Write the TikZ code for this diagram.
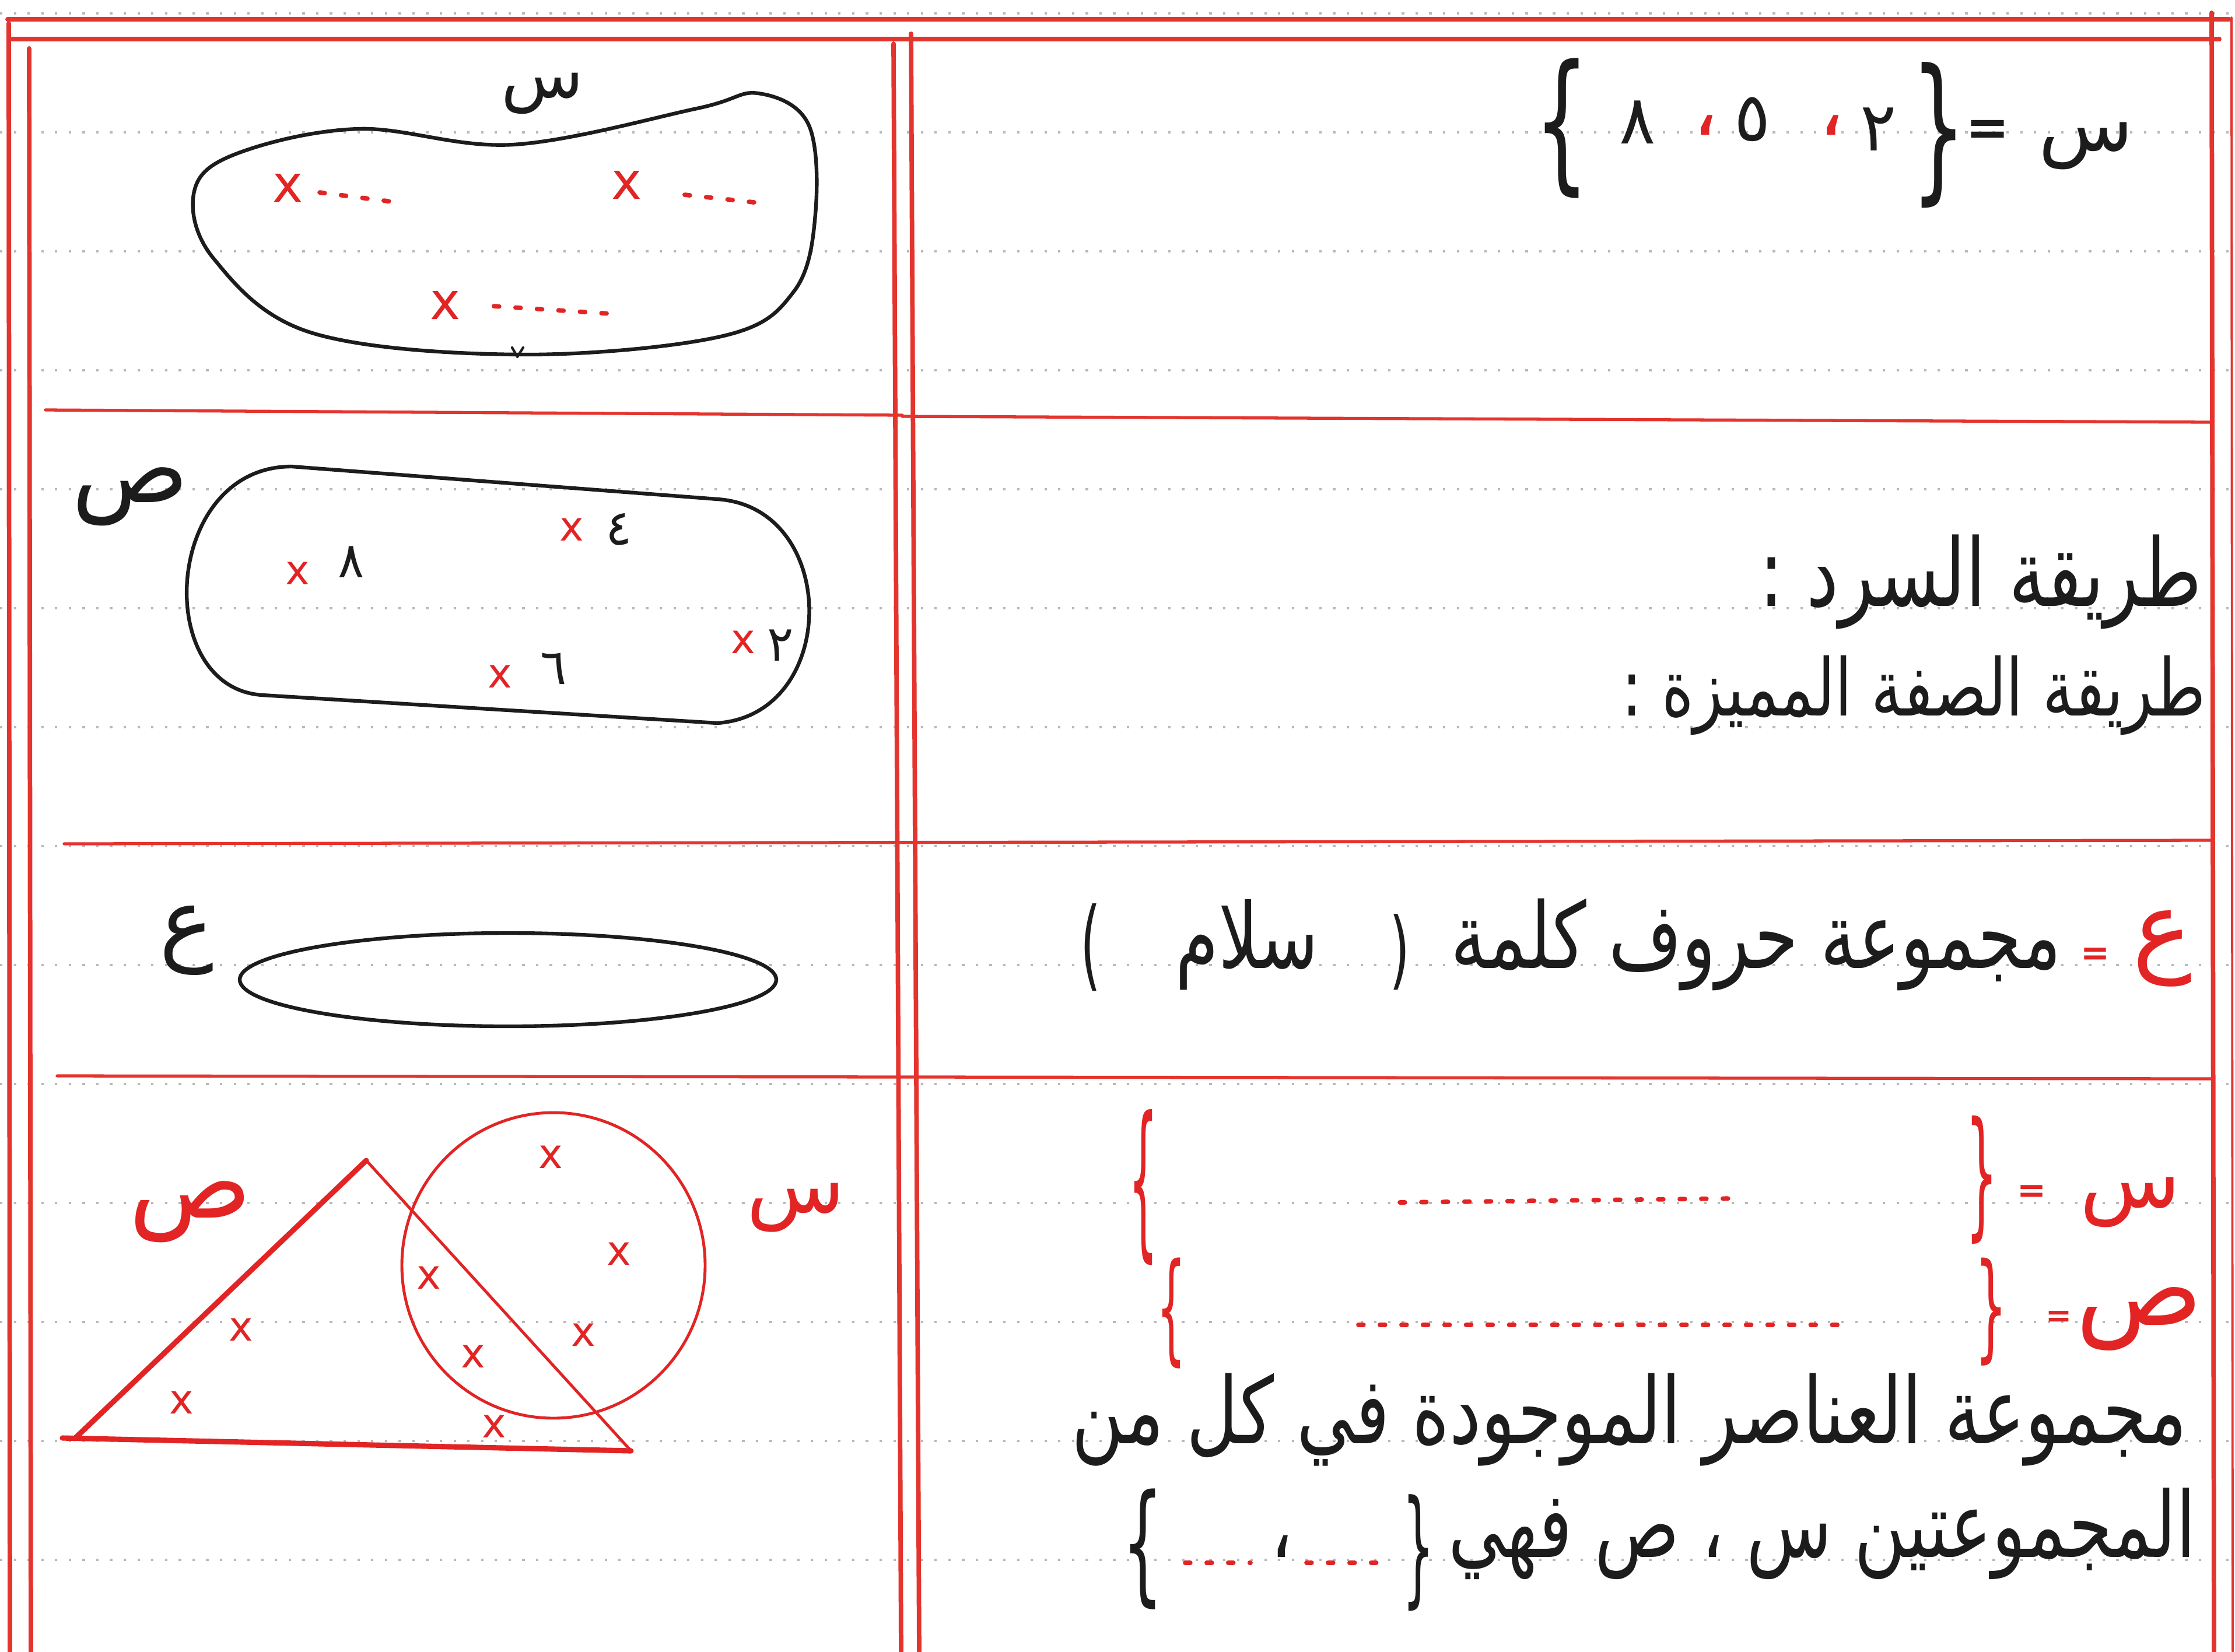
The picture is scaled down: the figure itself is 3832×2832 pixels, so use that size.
\documentclass[tikz,border=0pt]{standalone}
\usepackage{fontspec}
\usepackage{graphicx}
\setmainfont{DejaVu Sans}
\newfontfamily\arabicfont[Script=Arabic]{DejaVu Sans}
\TeXXeTstate=1
\newcommand{\artext}[2]{\resizebox{#1}{!}{\scalebox{1}[1.3]{\arabicfont #2}}}
\newcommand{\arsized}[2]{\scalebox{1}[1.3]{\arabicfont\fontsize{#1}{#1}\selectfont #2}}
\newcommand{\glyphw}[2]{\resizebox{#1}{!}{#2}}
\newcommand{\bracebox}[3]{\resizebox*{#1}{#2}{#3}}
\definecolor{gridred}{RGB}{228,52,46}
\definecolor{inkred}{RGB}{226,36,36}
\definecolor{ink}{RGB}{28,28,28}
\definecolor{rulegray}{RGB}{185,185,185}
\tikzset{
  gridline/.style={draw=gridred, line width=2.2pt, line cap=round},
  divline/.style={draw=gridred, line width=1.5pt, line cap=round},
  ruled/.style={draw=rulegray, line width=0.9pt, dash pattern=on 1.2pt off 5.5pt},
  inkline/.style={draw=ink, line width=1.8pt, line cap=round, line join=round},
  redthin/.style={draw=inkred, line width=1.4pt, line cap=round, line join=round},
  redthick/.style={draw=inkred, line width=2.6pt, line cap=round, line join=round},
  reddots/.style={draw=inkred, line width=2.2pt, line cap=round, dash pattern=on 2.5pt off 8pt},
  lbl/.style={inner sep=0pt, text=ink},
  rlbl/.style={inner sep=0pt, text=inkred},
  xm/.style={inner sep=0pt, text=inkred, font=\fontsize{20pt}{20pt}\selectfont},
  xmbig/.style={inner sep=0pt, text=inkred, font=\fontsize{25pt}{25pt}\selectfont},
  digsmall/.style={inner sep=0pt, text=ink, font=\arabicfont\fontsize{24pt}{24pt}\selectfont},
  digbig/.style={inner sep=0pt, text=ink, font=\arabicfont\fontsize{33pt}{33pt}\selectfont},
  commabig/.style={inner sep=0pt, text=inkred, font=\arabicfont\fontsize{40pt}{40pt}\selectfont},
}
\begin{document}
\begin{tikzpicture}[x={(0.01cm,0cm)}, y={(0cm,-0.01cm)}]
\useasboundingbox (0,0) rectangle (3832,2832);
\fill[white] (0,0) rectangle (3832,2832);

% notebook ruling
\foreach \k in {0,...,13} {
  \draw[ruled] (0,{23+204*\k}) -- (3832,{23+204*\k});
}

% red table grid
\draw[gridline] (13,33) -- (3822,33);
\draw[gridline] (20,67) -- (3805,67);
\draw[gridline] (15,40) -- (17,2832);
\draw[gridline] (50,83) -- (53,2832);
\draw[gridline] (1532,75) -- (1545,2832);
\draw[gridline] (1562,58) -- (1576,2832);
\draw[gridline] (3792,22) -- (3796,2832);
\draw[gridline, line width=1.1pt] (3826,30) -- (3828,2832);
\draw[divline] (78,703) -- (1547,712);
\draw[divline] (1547,714) -- (3792,724);
\draw[divline] (110,1447) -- (3792,1441);
\draw[divline] (98,1845) -- (3792,1850);

% ===== Row 1, left: set s as a blob
\draw[inkline] plot[smooth cycle, tension=0.6] coordinates {
  (333,328) (366,443) (532,570) (888,608) (1236,577) (1361,500) (1398,367)
  (1386,213) (1300,160) (1195,186) (880,248) (615,221) (407,263)};
\draw[inkline, line width=1.2pt] (878,596) -- (887,612) -- (897,596);
\node[lbl] (sLabA) at (930,160) {\glyphw{1.41cm}{\arabicfont س}};
\node[xmbig] (xA1) at (494,322) {x};
\node[xmbig] (xA2) at (1075,317) {x};
\node[xmbig] (xA3) at (764,523) {x};
\draw[reddots] (548,330) -- (681,347);
\draw[reddots] (1174,334) -- (1311,349);
\draw[reddots] (847,525) -- (1062,539);

% ===== Row 1, right: s = {2, 5, 8}
\node[lbl] (bL1) at (2678,220) {\bracebox{0.95cm}{2.4cm}{\{}};
\node[digbig] (d8) at (2808,210) {٨};
\node[commabig] (cm1) at (2924,215) {،};
\node[digbig] (d5) at (3005,205) {٥};
\node[commabig] (cm2) at (3140,215) {،};
\node[digbig] (d2) at (3221,222) {٢};
\node[lbl] (bR1) at (3324,232) {\bracebox{0.95cm}{2.5cm}{\}}};
\node[lbl] (eq1) at (3408,228) {\glyphw{0.75cm}{\bfseries =}};
\node[lbl] (sR1) at (3577,250) {\glyphw{1.62cm}{\arabicfont س}};

% ===== Row 2, left: set p as a rounded shape
\draw[inkline] (500,800) -- (1230,856)
  .. controls (1440,870) and (1440,1225) .. (1230,1240)
  -- (450,1192)
  .. controls (260,1180) and (280,800) .. cycle;
\node[lbl] (pLabA) at (224,852) {\glyphw{2.0cm}{\arabicfont ص}};
\node[xm] (xB1) at (510,983) {x};
\node[digsmall] (e8) at (602,964) {٨};
\node[xm] (xB2) at (980,908) {x};
\node[digsmall] (e4) at (1061,908) {٤};
\node[xm] (xB3) at (857,1160) {x};
\node[digsmall] (e6) at (949,1147) {٦};
\node[xm] (xB4) at (1274,1101) {x};
\node[digsmall] (e2) at (1338,1107) {٢};

% ===== Row 2, right
\node[lbl, anchor=base east] (tB1) at (3776,1039) {\artext{7.58cm}{\beginR طريقة السرد :\endR}};
\node[lbl, anchor=base east] (tB2) at (3782,1227) {\artext{10.0cm}{\beginR طريقة الصفة المميزة :\endR}};

% ===== Row 3, left
\node[lbl] (zLabA) at (320,1613) {\glyphw{0.93cm}{\arabicfont ع}};
\draw[inkline] (871,1680) ellipse [x radius=460, y radius=80];

% ===== Row 3, right
\node[rlbl] (zR) at (3707,1627) {\glyphw{1.02cm}{\arabicfont ع}};
\node[rlbl] (eqz) at (3592,1640) {\glyphw{0.5cm}{\bfseries =}};
\node[lbl, anchor=base east] (tC1) at (3535,1660) {\artext{10.46cm}{\beginR مجموعة حروف كلمة\endR}};
\node[lbl] (parR) at (2400,1633) {\bracebox{0.35cm}{1.3cm}{)}};
\node[lbl, anchor=base] (tC2) at (2138,1660) {\arsized{34pt}{سلام}};
\node[lbl] (parL) at (1870,1625) {\bracebox{0.35cm}{1.5cm}{(}};

% ===== Row 4, left: triangle p and circle s
\draw[redthin] (949,2170) ellipse [x radius=260, y radius=262];
\draw[redthin] (628,1990) -- (1082,2488);
\draw[redthick] (1082,2488) -- (107,2466);
\draw[redthick] (128,2467) -- (628,1990);
\node[rlbl] (pLabB) at (327,2078) {\glyphw{2.1cm}{\arabicfont ص}};
\node[rlbl] (sLabB) at (1365,2071) {\glyphw{1.68cm}{\arabicfont س}};
\node[xm] (xD1) at (944,1984) {x};
\node[xm] (xD2) at (1061,2150) {x};
\node[xm] (xD3) at (735,2191) {x};
\node[xm] (xD4) at (413,2280) {x};
\node[xm] (xD5) at (1000,2289) {x};
\node[xm] (xD6) at (811,2326) {x};
\node[xm] (xD7) at (311,2405) {x};
\node[xm] (xD8) at (847,2446) {x};

% ===== Row 4, right
% s = { ... }
\node[rlbl] (sR4) at (3653,2062) {\glyphw{1.72cm}{\arabicfont س}};
\node[rlbl] (eq41) at (3483,2047) {\glyphw{0.5cm}{\bfseries =}};
\node[rlbl] (bR41) at (3398,2023) {\bracebox{0.55cm}{2.2cm}{\}}};
\node[rlbl] (bL41) at (1960,2036) {\bracebox{0.5cm}{2.67cm}{\{}};
\draw[reddots] (2400,2062) -- (2986,2055);
% p = { ... }
\node[rlbl] (pR4) at (3668,2262) {\glyphw{2.17cm}{\arabicfont ص}};
\node[rlbl] (eq42) at (3530,2262) {\glyphw{0.45cm}{\bfseries =}};
\node[rlbl] (bR42) at (3414,2250) {\bracebox{0.55cm}{1.85cm}{\}}};
\node[rlbl] (bL42) at (2008,2252) {\bracebox{0.5cm}{1.9cm}{\{}};
\draw[reddots] (2329,2272) -- (3165,2272);
% sentence
\node[lbl, anchor=base east] (tD1) at (3750,2475) {\artext{19.1cm}{\beginR مجموعة العناصر الموجودة في كل من\endR}};
\node[lbl, anchor=base east] (tD2) at (3765,2670) {\artext{12.8cm}{\beginR المجموعتين س ، ص فهي\endR}};
\node[lbl] (bR44) at (2432,2663) {\bracebox{0.55cm}{2.0cm}{\}}};
\draw[reddots] (2240,2680) -- (2361,2680);
\node[lbl, anchor=base] (tD7) at (2198,2670) {\arsized{34pt}{،}};
\draw[reddots] (2032,2680) -- (2144,2680);
\node[lbl] (bL44) at (1960,2656) {\bracebox{0.7cm}{2.07cm}{\{}};
\end{tikzpicture}
\end{document}
